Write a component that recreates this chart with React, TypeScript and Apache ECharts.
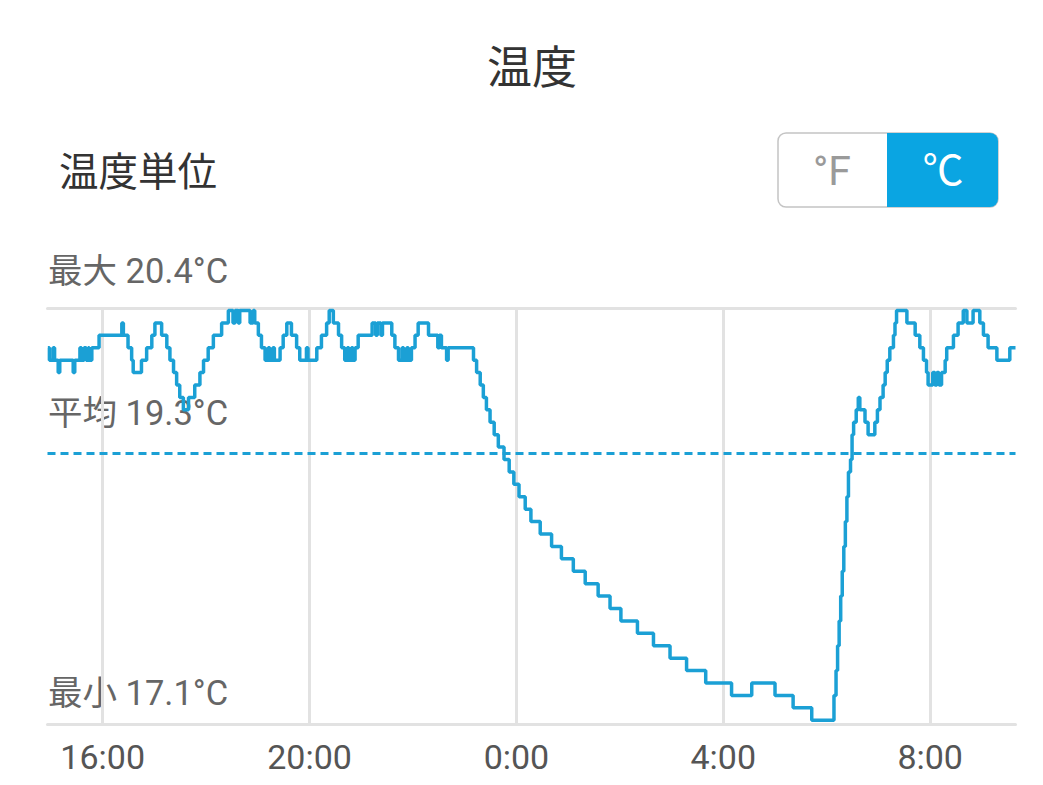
import { useEffect, useRef } from "react";
import * as echarts from "echarts";

const TITLE = "温度";
const UNIT_LABEL = "温度単位";
const UNIT_OPTIONS = ["°F", "℃"];
const STAT_NAMES = ["最大", "平均", "最小"];
const STAT_VALUES = [20.4, 19.3, 17.1];
const AVG_LINE_VALUE = 19.25;
const X_MIN = 14.933;
const X_MAX = 33.65;
const Y_MIN = 17.07;
const Y_MAX = 20.42;
const TICK_HOURS = [16, 20, 24, 28, 32];

// hours since midnight of the first day
const TIMES = [
  14.94, 14.97, 15.04, 15.07, 15.14, 15.17, 15.43, 15.46, 15.56, 15.59, 15.64, 15.68, 15.72, 15.74, 15.79, 15.93,
  16.37, 16.40, 16.49, 16.56, 16.59, 16.75, 16.85, 16.95, 17.01, 17.14, 17.24, 17.30, 17.37, 17.43, 17.49, 17.56,
  17.66, 17.78, 17.88, 17.95, 18.04, 18.14, 18.30, 18.43, 18.52, 18.56, 18.62, 18.65, 18.85, 18.91, 18.94, 19.01,
  19.07, 19.14, 19.20, 19.23, 19.29, 19.32, 19.43, 19.49, 19.56, 19.65, 19.75, 19.81, 19.94, 19.97, 20.14, 20.23,
  20.33, 20.38, 20.46, 20.56, 20.62, 20.68, 20.73, 20.76, 20.81, 20.84, 20.88, 20.94, 21.21, 21.28, 21.31, 21.38,
  21.41, 21.59, 21.65, 21.72, 21.79, 21.82, 21.88, 21.91, 21.97, 22.04, 22.10, 22.30, 22.48, 22.51, 22.55, 22.65,
  22.68, 23.17, 23.23, 23.30, 23.36, 23.42, 23.49, 23.57, 23.65, 23.76, 23.86, 23.95, 24.05, 24.17, 24.28, 24.46,
  24.68, 24.87, 25.10, 25.33, 25.58, 25.81, 26.02, 26.34, 26.65, 26.97, 27.29, 27.66, 28.16, 28.55, 29.00, 29.35,
  29.71, 30.14, 30.18, 30.21, 30.24, 30.27, 30.30, 30.33, 30.36, 30.39, 30.42, 30.46, 30.49, 30.52, 30.57, 30.61,
  30.64, 30.74, 30.80, 30.93, 30.98, 31.03, 31.09, 31.13, 31.17, 31.22, 31.29, 31.32, 31.35, 31.55, 31.71, 31.80,
  31.87, 31.93, 31.96, 32.05, 32.09, 32.13, 32.17, 32.22, 32.29, 32.32, 32.45, 32.54, 32.64, 32.71, 32.83, 32.96,
  33.03, 33.12, 33.29, 33.54, 33.65,
];

const TEMPS = [
  20.1, 20.0, 20.1, 20.0, 19.9, 20.0, 19.9, 20.0, 20.1, 20.0, 20.1, 20.0, 20.1, 20.0, 20.1, 20.2,
  20.3, 20.2, 20.1, 20.0, 19.9, 20.0, 20.1, 20.2, 20.3, 20.2, 20.1, 20.0, 19.9, 19.8, 19.7, 19.6,
  19.7, 19.8, 19.9, 20.0, 20.1, 20.2, 20.3, 20.4, 20.3, 20.4, 20.3, 20.4, 20.3, 20.4, 20.3, 20.2,
  20.1, 20.0, 20.1, 20.0, 20.1, 20.0, 20.1, 20.2, 20.3, 20.2, 20.1, 20.0, 20.1, 20.0, 20.1, 20.2,
  20.3, 20.4, 20.3, 20.2, 20.1, 20.0, 20.1, 20.0, 20.1, 20.0, 20.1, 20.2, 20.3, 20.2, 20.3, 20.2,
  20.3, 20.2, 20.1, 20.0, 20.1, 20.0, 20.1, 20.0, 20.1, 20.2, 20.3, 20.2, 20.1, 20.2, 20.1, 20.0,
  20.1, 20.0, 19.9, 19.8, 19.7, 19.6, 19.5, 19.4, 19.3, 19.2, 19.1, 19.0, 18.9, 18.8, 18.7, 18.6,
  18.5, 18.4, 18.3, 18.2, 18.1, 18.0, 17.9, 17.8, 17.7, 17.6, 17.5, 17.4, 17.3, 17.4, 17.3, 17.2,
  17.1, 17.3, 17.5, 17.7, 17.9, 18.1, 18.3, 18.5, 18.7, 18.9, 19.1, 19.2, 19.4, 19.5, 19.6, 19.7,
  19.6, 19.5, 19.4, 19.5, 19.6, 19.7, 19.8, 19.9, 20.0, 20.1, 20.2, 20.3, 20.4, 20.3, 20.2, 20.1,
  20.0, 19.9, 19.8, 19.9, 19.8, 19.9, 19.8, 19.9, 20.0, 20.1, 20.2, 20.3, 20.4, 20.3, 20.4, 20.3,
  20.2, 20.1, 20.0, 20.1, 20.1,
];

const FONT = "Roboto, 'Noto Sans CJK JP', sans-serif";
const LINE_COLOR = "#1ba0d5";
const GRID_COLOR = "#e2e2e2";

const STAT_LABEL_Y = [271, 413, 693];

export default function App() {
  const ref = useRef<HTMLDivElement>(null);

  useEffect(() => {
    if (!ref.current) return;
    const chart = echarts.init(ref.current, null, { renderer: "svg" });
    const data = TIMES.map((t, i) => [t, TEMPS[i]]);

    const txt = (x: number, y: number, text: string, size: number, fill: string, align = "left") => ({
      type: "text",
      x,
      y,
      silent: true,
      style: {
        text,
        fill,
        fontSize: size,
        fontFamily: FONT,
        textAlign: align,
        textVerticalAlign: "middle",
        align,
        verticalAlign: "middle",
      },
    });

    chart.setOption({
      animation: false,
      backgroundColor: "#ffffff",
      grid: { left: 47.5, right: 27.5, top: 308, bottom: 61 },
      xAxis: [
        {
          type: "value",
          min: X_MIN,
          max: X_MAX,
          axisLine: { show: true, lineStyle: { color: GRID_COLOR, width: 3 } },
          axisTick: { show: false, customValues: TICK_HOURS },
          axisLabel: {
            customValues: TICK_HOURS,
            formatter: (v: number) => `${Math.round(v) % 24}:00`,
            fontSize: 34,
            fontFamily: FONT,
            color: "#555",
            margin: 16,
          },
          splitLine: { show: true, lineStyle: { color: GRID_COLOR, width: 3 } },
        },
        {
          type: "value",
          position: "top",
          min: X_MIN,
          max: X_MAX,
          axisLine: { show: true, lineStyle: { color: GRID_COLOR, width: 3 } },
          axisTick: { show: false },
          axisLabel: { show: false },
          splitLine: { show: false },
        },
      ],
      yAxis: {
        type: "value",
        min: Y_MIN,
        max: Y_MAX,
        axisLine: { show: false },
        axisTick: { show: false },
        axisLabel: { show: false },
        splitLine: { show: false },
      },
      series: [
        {
          type: "line",
          step: "end",
          data,
          showSymbol: false,
          symbol: "none",
          lineStyle: { color: LINE_COLOR, width: 3.5 },
          markLine: {
            silent: true,
            symbol: "none",
            label: { show: false },
            lineStyle: { color: LINE_COLOR, width: 3, type: [8, 5] },
            data: [{ yAxis: AVG_LINE_VALUE }],
          },
        },
      ],
      graphic: [
        txt(532, 68, TITLE, 45, "#333", "center"),
        txt(59, 172, UNIT_LABEL, 39.5, "#333"),
        {
          type: "rect",
          shape: { x: 778, y: 133, width: 220, height: 74, r: 8 },
          style: { fill: "#fff", stroke: "#c4c4c4", lineWidth: 1.5 },
        },
        {
          type: "rect",
          shape: { x: 887, y: 133, width: 111, height: 74, r: [0, 8, 8, 0] },
          style: { fill: "#0aa5e2" },
        },
        txt(832, 171, UNIT_OPTIONS[0], 41, "#9a9a9a", "center"),
        txt(943, 171, UNIT_OPTIONS[1], 41, "#ffffff", "center"),
        ...STAT_NAMES.map((n, i) =>
          txt(48, STAT_LABEL_Y[i], `${n} ${STAT_VALUES[i].toFixed(1)}°C`, 34.5, "#666")
        ),
      ],
    });

    return () => chart.dispose();
  }, []);

  return (
    <div
      ref={ref}
      style={{ position: "fixed", left: 0, top: 0, width: 1043, height: 785, background: "#fff" }}
    />
  );
}
